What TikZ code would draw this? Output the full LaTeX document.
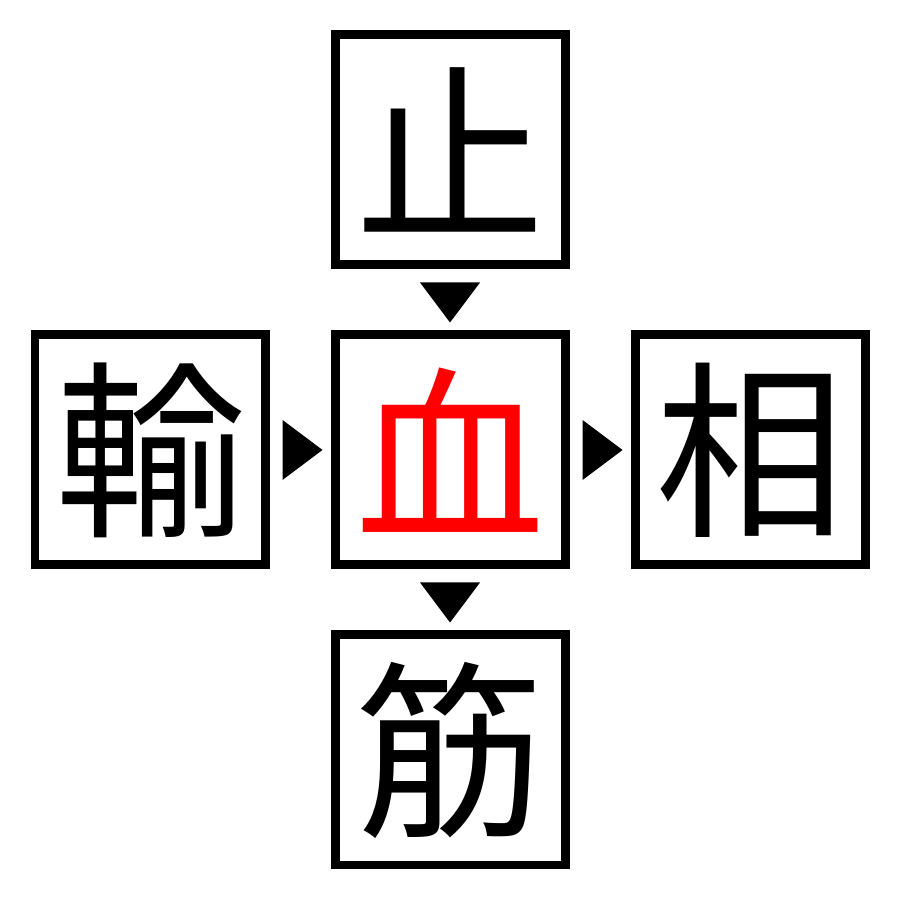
\documentclass[tikz,border=0pt]{standalone}
\usepackage{fontspec}
\newfontfamily\cjk{Noto Sans CJK JP}
\begin{document}
\begin{tikzpicture}
\useasboundingbox (0,0) rectangle (9,9);
\tikzset{kbox/.style={draw=black,line width=0.09cm,minimum size=2.3cm,inner sep=0pt,font=\cjk\fontsize{54}{54}\selectfont},
tri/.style={fill=black}}
\node[kbox] (c) at (4.5,4.5) {\color{red}血};
\node[kbox] (t) at (4.5,7.5) {止};
\node[kbox] (l) at (1.5,4.5) {輸};
\node[kbox] (r) at (7.5,4.5) {相};
\node[kbox] (b) at (4.5,1.5) {筋};
\fill[tri] ([xshift=-0.3cm,yshift=-0.13cm]t.south) -- ([xshift=0.3cm,yshift=-0.13cm]t.south) -- ([yshift=-0.53cm]t.south) -- cycle;
\fill[tri] ([xshift=-0.3cm,yshift=-0.13cm]c.south) -- ([xshift=0.3cm,yshift=-0.13cm]c.south) -- ([yshift=-0.53cm]c.south) -- cycle;
\fill[tri] ([xshift=0.13cm,yshift=-0.3cm]l.east) -- ([xshift=0.13cm,yshift=0.3cm]l.east) -- ([xshift=0.53cm]l.east) -- cycle;
\fill[tri] ([xshift=0.13cm,yshift=-0.3cm]c.east) -- ([xshift=0.13cm,yshift=0.3cm]c.east) -- ([xshift=0.53cm]c.east) -- cycle;
\end{tikzpicture}
\end{document}
